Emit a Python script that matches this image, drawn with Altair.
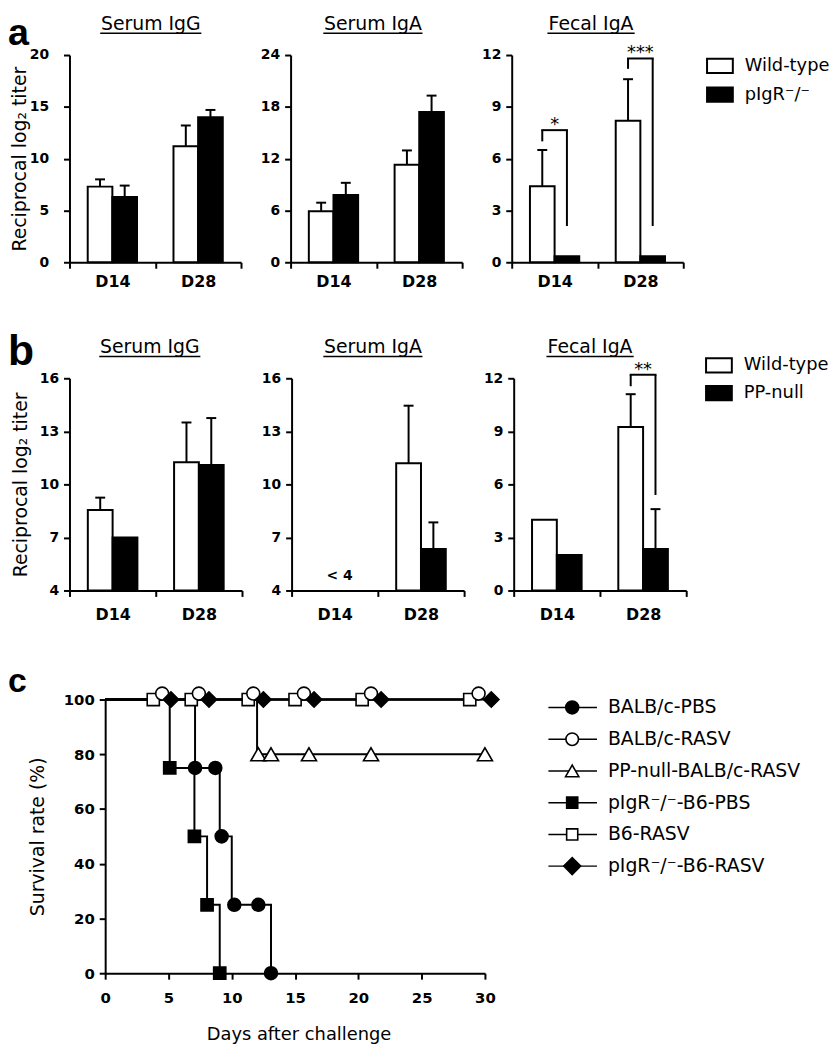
import altair as alt
import pandas as pd

FONT = "DejaVu Sans"
LFONT = "Liberation Sans"

# ---------------- panels a & b : antibody titers ----------------
days = ["D14", "D28"]
genos_a = ["Wild-type", "pIgR⁻/⁻"]
genos_b = ["Wild-type", "PP-null"]
panel_titles = ["Serum IgG", "Serum IgA", "Fecal IgA"]
titer_title = "Reciprocal log₂ titer"

a_igg_wt = [7.3, 11.2]
a_igg_wt_err = [0.7, 2.0]
a_igg_ko = [6.3, 14.0]
a_igg_ko_err = [1.1, 0.7]
a_iga_wt = [5.9, 11.3]
a_iga_wt_err = [1.0, 1.65]
a_iga_ko = [7.8, 17.4]
a_iga_ko_err = [1.4, 1.9]
a_fec_wt = [4.4, 8.2]
a_fec_wt_err = [2.1, 2.4]
a_fec_ko = [0.35, 0.35]
a_fec_ko_err = [None, None]
a_sig_label = ["*", "***"]
a_sig_top = [7.65, 11.8]
a_sig_wt_end = [7.0, 11.2]
a_sig_ko_end = [2.1, 2.1]

b_igg_wt = [8.55, 11.25]
b_igg_wt_err = [0.7, 2.25]
b_igg_ko = [7.0, 11.1]
b_igg_ko_err = [None, 2.65]
b_iga_wt = [None, 11.2]
b_iga_wt_err = [None, 3.25]
b_iga_ko = [None, 6.35]
b_iga_ko_err = [None, 1.5]
b_iga_note = ["< 4", None]
b_fec_wt = [4.0, 9.25]
b_fec_wt_err = [None, 1.85]
b_fec_ko = [2.0, 2.35]
b_fec_ko_err = [None, 2.25]
b_sig_label = [None, "**"]
b_sig_top = [None, 12.2]
b_sig_wt_end = [None, 11.55]
b_sig_ko_end = [None, 5.4]

a_domains = [[0, 20], [0, 24], [0, 12]]
a_ticks = [[0, 5, 10, 15, 20], [0, 6, 12, 18, 24], [0, 3, 6, 9, 12]]
b_domains = [[4, 16], [4, 16], [0, 12]]
b_ticks = [[4, 7, 10, 13, 16], [4, 7, 10, 13, 16], [0, 3, 6, 9, 12]]

# ---------------- panel c : survival ----------------
groups = ["BALB/c-PBS", "BALB/c-RASV", "PP-null-BALB/c-RASV",
          "pIgR⁻/⁻-B6-PBS", "B6-RASV", "pIgR⁻/⁻-B6-RASV"]
surv_x_ticks = [0, 5, 10, 15, 20, 25, 30]
surv_y_ticks = [0, 20, 40, 60, 80, 100]

balb_pbs_days = [0, 7.1, 9.05, 10.0, 13.1]
balb_pbs_surv = [100, 75, 50, 25, 0]
balb_rasv_days = [0, 29.5]
balb_rasv_surv = [100, 100]
ppnull_rasv_days = [0, 12.0, 30.0]
ppnull_rasv_surv = [100, 80, 80]
pigr_pbs_days = [0, 5.1, 7.05, 8.05, 9.05]
pigr_pbs_surv = [100, 75, 50, 25, 0]
b6_rasv_days = [0, 28.8]
b6_rasv_surv = [100, 100]
pigr_rasv_days = [0, 30.5]
pigr_rasv_surv = [100, 100]

balb_pbs_mk_days = [7.1, 8.7, 9.2, 10.2, 12.1, 13.1]
balb_pbs_mk_surv = [75, 75, 50, 25, 25, 0]
balb_rasv_mk_days = [4.5, 7.4, 11.7, 15.7, 21.0, 29.5]
balb_rasv_mk_surv = [100, 100, 100, 100, 100, 100]
ppnull_rasv_mk_days = [12.1, 13.1, 16.1, 21.0, 30.0]
ppnull_rasv_mk_surv = [80, 80, 80, 80, 80]
pigr_pbs_mk_days = [5.1, 7.05, 8.05, 9.05]
pigr_pbs_mk_surv = [75, 50, 25, 0]
b6_rasv_mk_days = [3.8, 6.8, 11.3, 15.0, 20.3, 28.8]
b6_rasv_mk_surv = [100, 100, 100, 100, 100, 100]
pigr_rasv_mk_days = [5.2, 8.2, 12.5, 16.5, 21.8, 30.5]
pigr_rasv_mk_surv = [100, 100, 100, 100, 100, 100]

line_days = [balb_pbs_days, balb_rasv_days, ppnull_rasv_days, pigr_pbs_days, b6_rasv_days, pigr_rasv_days]
line_survs = [balb_pbs_surv, balb_rasv_surv, ppnull_rasv_surv, pigr_pbs_surv, b6_rasv_surv, pigr_rasv_surv]
mk_days = [balb_pbs_mk_days, balb_rasv_mk_days, ppnull_rasv_mk_days, pigr_pbs_mk_days, b6_rasv_mk_days, pigr_rasv_mk_days]
mk_survs = [balb_pbs_mk_surv, balb_rasv_mk_surv, ppnull_rasv_mk_surv, pigr_pbs_mk_surv, b6_rasv_mk_surv, pigr_rasv_mk_surv]

# marker styles (per group, same order as groups)
mk_shape = ["circle", "circle", "triangle-up", "square", "square", "diamond"]
mk_fill = ["black", "white", "white", "black", "white", "black"]
mk_size = [170, 170, 230, 150, 150, 240]
mk_yoff = [0, -6, 0, 0, 0, 0]
leg_size = [170, 160, 180, 125, 125, 290]
draw_order = [2, 3, 0, 4, 1, 5]

LEGEND_RECT = "M-1,-0.55L1,-0.55L1,0.55L-1,0.55Z"


def one_row(text):
    return pd.DataFrame({"t": [text]})


def bar_panel(title, ul_w, genos, wt, wt_err, ko, ko_err, ydom, yticks, width, height,
              xlabpad, ylabpad=5, title_x=82, legend=None, ytitle=None, ytitle_x=-48,
              sig=None, note=None, letter=None):
    recs = []
    for i, d in enumerate(days):
        for g, v, e in ((genos[0], wt[i], wt_err[i]), (genos[1], ko[i], ko_err[i])):
            recs.append({"day": d, "geno": g, "value": v,
                         "top": None if (v is None or e is None) else v + e})
    df = pd.DataFrame(recs)

    xaxis = alt.Axis(tickBand="extent", labelAngle=0, labelFontSize=16, labelFontWeight="bold",
                     labelPadding=xlabpad)

    def X():
        return alt.X("day:N", sort=days, title=None,
                     scale=alt.Scale(paddingInner=0, paddingOuter=0), axis=xaxis)

    xoff = alt.XOffset("geno:N", sort=genos, scale=alt.Scale(paddingInner=0, paddingOuter=0.74))

    yax_kw = dict(values=yticks, labelFontSize=14, labelFontWeight="bold", labelPadding=ylabpad,
                  labelFlush=False)
    if ytitle:
        yax_kw.update(titleFontSize=19, titleFontWeight="normal", titleAngle=270, titleAlign="center",
                      titleBaseline="alphabetic", titleX=ytitle_x, titleY=height / 2)
    yaxis = alt.Axis(**yax_kw)
    yscale = alt.Scale(domain=ydom, nice=False, zero=False)

    def Y(field):
        return alt.Y(field, scale=yscale, axis=yaxis, title=ytitle if ytitle else None)

    base = alt.Chart(df)
    fill_kw = dict(sort=genos, scale=alt.Scale(domain=genos, range=["white", "black"]))
    if legend is None:
        fill = alt.Fill("geno:N", legend=None, **fill_kw)
    else:
        fill = alt.Fill("geno:N", legend=legend, **fill_kw)

    bars = base.transform_filter("isValid(datum.value)").mark_bar(
        stroke="black", strokeWidth=2).encode(
        x=X(), xOffset=xoff, y=Y("value:Q"), y2=alt.datum(ydom[0]), fill=fill)
    errs = base.transform_filter("isValid(datum.top)")
    err_rule = errs.mark_rule(color="black", strokeWidth=2).encode(
        x=X(), xOffset=xoff, y=Y("value:Q"), y2="top:Q")
    err_cap = errs.mark_tick(color="black", thickness=2, size=10, orient="horizontal", opacity=1).encode(
        x=X(), xOffset=xoff, y=Y("top:Q"))
    layers = [bars, err_rule, err_cap]

    if sig is not None:
        s_lab, s_top, s_wt, s_ko = sig
        leg_recs, top_recs = [], []
        for i, d in enumerate(days):
            if s_lab[i] is None:
                continue
            leg_recs.append({"day": d, "geno": genos[0], "y1": s_top[i], "y2": s_wt[i]})
            leg_recs.append({"day": d, "geno": genos[1], "y1": s_top[i], "y2": s_ko[i]})
            top_recs.append({"day": d, "y": s_top[i], "label": s_lab[i]})
        legs = alt.Chart(pd.DataFrame(leg_recs)).mark_rule(color="black", strokeWidth=2).encode(
            x=X(), xOffset=xoff, y=Y("y1:Q"), y2="y2:Q")
        tops = alt.Chart(pd.DataFrame(top_recs)).mark_tick(
            color="black", thickness=2, size=27, orient="horizontal", opacity=1).encode(x=X(), y=Y("y:Q"))
        stars = alt.Chart(pd.DataFrame(top_recs)).mark_text(
            font=FONT, fontSize=18, baseline="alphabetic", align="center", color="black", dy=0).encode(
            x=X(), y=Y("y:Q"), text="label:N")
        layers += [legs, tops, stars]

    if note is not None:
        nrec = [{"day": d, "y": ydom[0], "label": n} for d, n in zip(days, note) if n is not None]
        layers.append(alt.Chart(pd.DataFrame(nrec)).mark_text(
            font=FONT, fontSize=14, fontWeight="bold", baseline="middle", align="center",
            color="black", dy=-15, dx=5).encode(x=X(), y=Y("y:Q"), text="label:N"))

    ttl = alt.Chart(one_row(title)).mark_text(
        font=FONT, fontSize=19, baseline="alphabetic", align="center", color="black").encode(
        text="t:N", x=alt.value(title_x), y=alt.value(-25))
    ul = alt.Chart(one_row(title)).mark_rule(color="black", strokeWidth=1.5).encode(
        x=alt.value(title_x - ul_w / 2), x2=alt.value(title_x + ul_w / 2), y=alt.value(-22))
    layers += [ttl, ul]

    if letter is not None:
        ltxt, lx, ly, lsize = letter
        layers.append(alt.Chart(one_row(ltxt)).mark_text(
            font=LFONT, fontSize=lsize, fontWeight="bold", align="left", baseline="alphabetic",
            color="black").encode(text="t:N", x=alt.value(lx), y=alt.value(ly)))

    return alt.layer(*layers).properties(width=width, height=height)


def bar_legend(lx, ly, rowpad):
    return alt.Legend(orient="none", legendX=lx, legendY=ly, title=None,
                      symbolType=LEGEND_RECT, symbolSize=676, symbolStrokeColor="black",
                      symbolStrokeWidth=2, labelFont=FONT, labelFontSize=18,
                      labelColor="black", labelOffset=11, rowPadding=rowpad, padding=0)


WA, HA = 173, 209
a1 = bar_panel(panel_titles[0], 102, genos_a, a_igg_wt, a_igg_wt_err, a_igg_ko, a_igg_ko_err,
               a_domains[0], a_ticks[0], WA, HA, xlabpad=5, ylabpad=15, title_x=82,
               ytitle=titer_title, ytitle_x=-44, letter=("a", -62, -10, 38))
a2 = bar_panel(panel_titles[1], 100, genos_a, a_iga_wt, a_iga_wt_err, a_iga_ko, a_iga_ko_err,
               a_domains[1], a_ticks[1], WA, HA, xlabpad=5, title_x=83)
a3 = bar_panel(panel_titles[2], 88, genos_a, a_fec_wt, a_fec_wt_err, a_fec_ko, a_fec_ko_err,
               a_domains[2], a_ticks[2], WA, HA, xlabpad=5, title_x=80,
               legend=bar_legend(196, -3, 3),
               sig=(a_sig_label, a_sig_top, a_sig_wt_end, a_sig_ko_end))

WB, HB = 174, 214
b1 = bar_panel(panel_titles[0], 102, genos_b, b_igg_wt, b_igg_wt_err, b_igg_ko, b_igg_ko_err,
               b_domains[0], b_ticks[0], WB, HB, xlabpad=10, title_x=81,
               ytitle=titer_title, ytitle_x=-43, letter=("b", -62, -13, 43))
b2 = bar_panel(panel_titles[1], 100, genos_b, b_iga_wt, b_iga_wt_err, b_iga_ko, b_iga_ko_err,
               b_domains[1], b_ticks[1], WB, HB, xlabpad=10, title_x=82, note=b_iga_note)
b3 = bar_panel(panel_titles[2], 88, genos_b, b_fec_wt, b_fec_wt_err, b_fec_ko, b_fec_ko_err,
               b_domains[2], b_ticks[2], WB, HB, xlabpad=10, title_x=77,
               legend=bar_legend(193, -27, 2),
               sig=(b_sig_label, b_sig_top, b_sig_wt_end, b_sig_ko_end))

# ---------------- survival plot ----------------
WC, HC = 383, 276
line_df = pd.DataFrame([{"group": g, "day": d, "surv": s, "k": k}
                        for g, ds, ss in zip(groups, line_days, line_survs)
                        for k, (d, s) in enumerate(zip(ds, ss))])
mk_df = pd.DataFrame([{"group": g, "day": d, "surv": s}
                      for g, ds, ss in zip(groups, mk_days, mk_survs)
                      for d, s in zip(ds, ss)])

xs = alt.X("day:Q", scale=alt.Scale(domain=[0, 30], nice=False), title="Days after challenge",
           axis=alt.Axis(values=surv_x_ticks, labelFontSize=15, labelFontWeight="bold", labelPadding=12,
                         labelFlush=False, titleFontSize=18, titleFontWeight="normal", titleX=195,
                         titleY=67, titleBaseline="alphabetic", titleAlign="center"))
ys = alt.Y("surv:Q", scale=alt.Scale(domain=[0, 100], nice=False), title="Survival rate (%)",
           axis=alt.Axis(values=surv_y_ticks, labelFontSize=15, labelFontWeight="bold", labelPadding=5,
                         labelFlush=False, titleFontSize=19, titleFontWeight="normal", titleAngle=270,
                         titleAlign="center", titleBaseline="alphabetic", titleX=-62, titleY=HC / 2))

surv_layers = [alt.Chart(line_df).mark_line(interpolate="step-after", color="black", strokeWidth=2).encode(
    x=xs, y=ys, detail="group:N", order="k:Q")]
for gi in draw_order:
    surv_layers.append(
        alt.Chart(mk_df).transform_filter(alt.FieldEqualPredicate(field="group", equal=groups[gi]))
        .mark_point(shape=mk_shape[gi], filled=True, fill=mk_fill[gi], stroke="black", strokeWidth=1.6,
                    size=mk_size[gi], opacity=1, yOffset=mk_yoff[gi])
        .encode(x=xs, y=ys))
surv = alt.layer(*surv_layers).properties(width=WC, height=HC)

# legend for panel c
leg_df = pd.DataFrame({"group": groups})
ly = alt.Y("group:N", sort=groups, scale=alt.Scale(type="point", padding=0.25), axis=None)
leg_layers = [alt.Chart(leg_df).mark_rule(color="black", strokeWidth=1.5).encode(
    y=ly, x=alt.value(39), x2=alt.value(88))]
for gi in range(len(groups)):
    leg_layers.append(
        alt.Chart(leg_df).transform_filter(alt.FieldEqualPredicate(field="group", equal=groups[gi]))
        .mark_point(shape=mk_shape[gi], filled=True, fill=mk_fill[gi], stroke="black", strokeWidth=1.6,
                    size=leg_size[gi], opacity=1)
        .encode(y=ly, x=alt.value(63)))
leg_layers.append(alt.Chart(leg_df).mark_text(
    align="left", baseline="middle", font=FONT, fontSize=19, color="black").encode(
    y=ly, x=alt.value(99), text="group:N"))
legend_c = alt.layer(*leg_layers).properties(width=200, height=176)

letter_c = alt.Chart(one_row("c")).mark_text(
    font=LFONT, fontSize=34, fontWeight="bold", align="left", baseline="alphabetic", color="black").encode(
    text="t:N", x=alt.value(-62), y=alt.value(-8)).properties(width=11, height=10)

res = dict(x="independent", y="independent", fill="independent", xOffset="independent")
rowA = alt.hconcat(a1, a2, a3, spacing=50, bounds="flush").resolve_scale(**res)
rowB = alt.hconcat(b1, b2, b3, spacing=50, bounds="flush").resolve_scale(**res)
rowC = alt.hconcat(letter_c, surv, legend_c, spacing=25, bounds="flush").resolve_scale(
    x="independent", y="independent")

chart = alt.vconcat(rowA, rowB, rowC, spacing=43).resolve_scale(**res).properties(
    padding={"left": 0, "top": 3, "right": 0, "bottom": 0})

chart = chart.configure_view(stroke=None).configure_axis(
    domainColor="black", domainWidth=2, tickColor="black", tickWidth=2, tickSize=6,
    labelColor="black", titleColor="black", labelFont=FONT, titleFont=FONT, grid=False)

chart.save("out.html", embed_options={"renderer": "svg", "actions": False})
